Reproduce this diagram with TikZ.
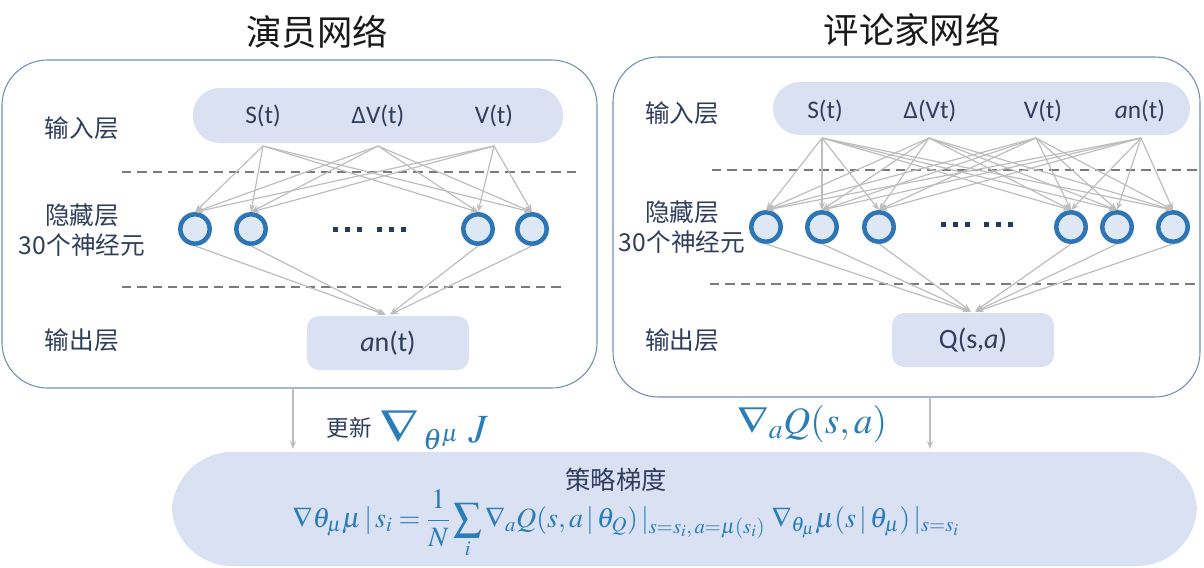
\documentclass[tikz,border=0pt]{standalone}
\usepackage[no-math]{fontspec}
\usepackage{mathptmx}
\usepackage{graphicx}
\setmainfont{Carlito}
\newfontfamily\cjk{Noto Sans CJK SC}
\usetikzlibrary{arrows.meta}
\definecolor{boxfill}{HTML}{DAE1F3}
\definecolor{boxline}{HTML}{6F8FB8}
\definecolor{ring}{HTML}{2E75B6}
\definecolor{neufill}{HTML}{DEE7F4}
\definecolor{edgec}{HTML}{BDBDBD}
\definecolor{lbl}{HTML}{2E3E5C}
\definecolor{eqc}{HTML}{2A7DB8}
\definecolor{dashc}{HTML}{7A7A7A}
\definecolor{dotc}{HTML}{243A5E}
\begin{document}
\begin{tikzpicture}[x=0.75pt,y=-0.75pt,
  neuron/.style={circle, draw=ring, fill=neufill, line width=3.4pt, minimum size=22pt, inner sep=0pt},
  conn/.style={draw=edgec, line width=0.9pt, -{Stealth[length=6pt,width=4.5pt]}},
  layerlbl/.style={text=lbl, font=\cjk\fontsize{18.5}{22.5}\selectfont, align=center},
  inlbl/.style={text=lbl, font=\fontsize{19}{22}\selectfont},
  sepline/.style={draw=dashc, line width=0.9pt, dash pattern=on 7pt off 4.5pt},
  outerbox/.style={draw=boxline, line width=0.8pt, rounded corners=34pt},
  pill/.style={fill=boxfill, rounded corners=20pt},
  outbox/.style={fill=boxfill, rounded corners=9pt, text=lbl, font=\fontsize{21}{24}\selectfont, minimum width=121.5pt, minimum height=40.5pt},
  title/.style={text=black!90, font=\cjk\fontsize{26.5}{30}\selectfont},
  dotsq/.style={fill=dotc}
]
\useasboundingbox (0,0) rectangle (1204,568);

% ---------------- titles
\node[title] (tA) at (317,32) {演员网络};
\node[title] (tC) at (912,30) {评论家网络};

% ---------------- outer boxes
\draw[outerbox] (2,60) rectangle (597,388);
\draw[outerbox] (613,57) rectangle (1200,397);

% ---------------- actor network
\path[pill] (193,88) rectangle (563,143);
\node[inlbl] (sA) at (263,116) {S(t)};
\node[inlbl] (dA) at (378,116) {ΔV(t)};
\node[inlbl] (vA) at (494,116) {V(t)};
\coordinate (iA1) at (263,146);
\coordinate (iA2) at (378,146);
\coordinate (iA3) at (494,146);

\node[layerlbl] (inA) at (82,128) {输入层};
\node[layerlbl] (hidA) at (82,230) {隐藏层\\30个神经元};
\node[layerlbl] (outlA) at (82,340) {输出层};

\draw[sepline] (122,172) -- (577,172);
\draw[sepline] (122,287) -- (565,287);

\node[neuron] (nA1) at (195,229) {};
\node[neuron] (nA2) at (251,229) {};
\node[neuron] (nA3) at (478,229) {};
\node[neuron] (nA4) at (532,229) {};
\foreach \x in {335,347,359,379,391,403} \fill[dotsq] (\x-2.5,226.5) rectangle (\x+2.5,231.5);

\node[outbox] (oA) at (388,343) {\textit{a}n(t)};

\foreach \i in {1,2,3} \foreach \j in {1,2,3,4}
  \draw[conn] (iA\i) -- (nA\j.north);
\foreach \j in {1,2,3,4}
  \draw[conn, shorten >=2pt] (nA\j.south) -- (oA.north);

% ---------------- critic network
\path[pill] (773,82) rectangle (1190,135);
\node[inlbl] (sC) at (825,111) {S(t)};
\node[inlbl] (dC) at (930,111) {Δ(Vt)};
\node[inlbl] (vC) at (1043,111) {V(t)};
\node[inlbl] (aC) at (1140,111) {\textit{a}n(t)};
\coordinate (iC1) at (822,138);
\coordinate (iC2) at (929,138);
\coordinate (iC3) at (1036,138);
\coordinate (iC4) at (1141,138);

\node[layerlbl] (inC) at (682,113) {输入层};
\node[layerlbl] (hidC) at (682,227) {隐藏层\\30个神经元};
\node[layerlbl] (outlC) at (682,340) {输出层};

\draw[sepline] (712,170) -- (1200,170);
\draw[sepline] (710,284) -- (1200,284);

\node[neuron] (nC1) at (766,227) {};
\node[neuron] (nC2) at (822,227) {};
\node[neuron] (nC3) at (879,227) {};
\node[neuron] (nC4) at (1071,227) {};
\node[neuron] (nC5) at (1117,227) {};
\node[neuron] (nC6) at (1173,227) {};
\foreach \x in {943,955,967,986,998,1010} \fill[dotsq] (\x-2.5,221.5) rectangle (\x+2.5,226.5);

\node[outbox] (oC) at (973,340) {Q(s,\textit{a})};

\foreach \i in {1,2,3,4} \foreach \j in {1,...,6}
  \draw[conn] (iC\i) -- (nC\j.north);
\foreach \j in {1,...,6}
  \draw[conn, shorten >=2pt] (nC\j.south) -- (oC.north);

% ---------------- policy gradient
\path[fill=boxfill, rounded corners=45pt] (172,452) rectangle (1197,566);
\coordinate (upA) at (293,388);
\coordinate (dnA) at (293,449);
\coordinate (upC) at (930,397);
\coordinate (dnC) at (930,449);
\draw[conn] (upA) -- (dnA);
\draw[conn] (upC) -- (dnC);

\node[text=lbl, font=\cjk\fontsize{17}{20}\selectfont] (upd) at (349,428) {更新};
\node[text=eqc, font=\fontsize{30}{34}\selectfont] (gJ) at (434,430) {$\scalebox{1.4}[1.15]{$\nabla$}_{\,\theta^{\mu}}\;J$};
\node[text=eqc, font=\fontsize{28}{32}\selectfont] (gQ) at (812,424) {$\scalebox{1.2}[1]{$\nabla$}_{a}Q(s,a)$};

\node[text=lbl, font=\cjk\fontsize{19}{22}\selectfont] (pg) at (616,480) {策略梯度};
\node[text=eqc, font=\fontsize{21}{25}\selectfont] (eq) at (626,524)
 {$\displaystyle \nabla\theta_{\mu}\mu\,|\,s_i=\frac{1}{N}\sum_{i}\nabla_{a}Q(s,a\,|\,\theta_{Q})\,|_{s=s_i,\,a=\mu(s_i)}\;\nabla_{\theta_{\mu}}\mu(s\,|\,\theta_{\mu})\,|_{s=s_i}$};
\end{tikzpicture}
\end{document}
